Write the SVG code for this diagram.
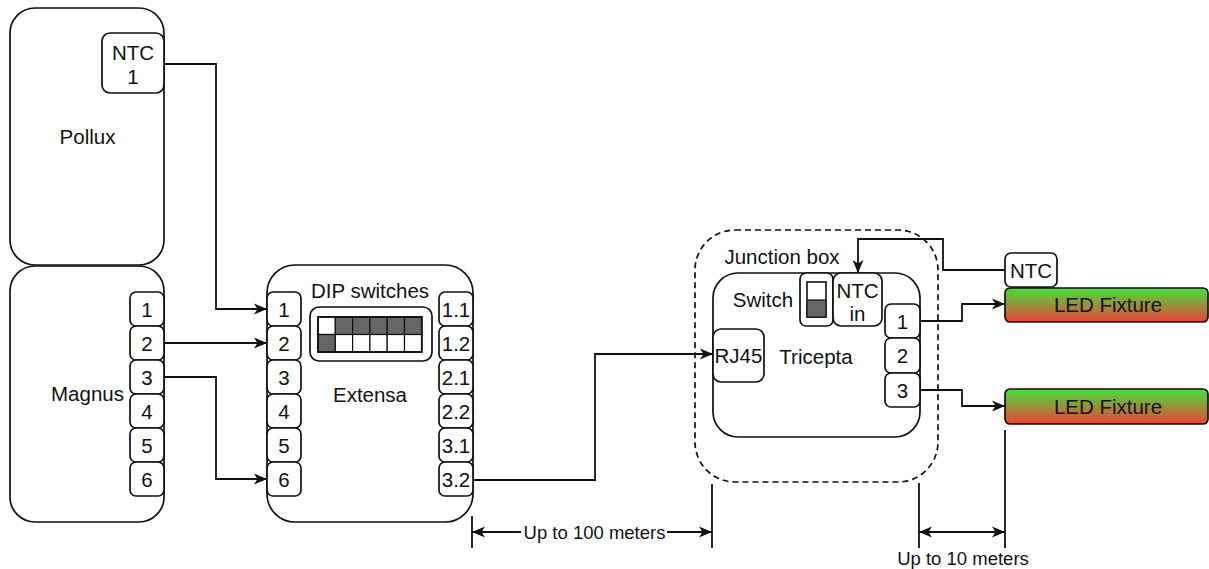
<svg xmlns="http://www.w3.org/2000/svg" width="1209" height="569" viewBox="0 0 1209 569">
<style>
.box{fill:#fff;stroke:#111;stroke-width:1.7}
.dash{fill:none;stroke:#111;stroke-width:1.7;stroke-dasharray:6 4}
.t{font-family:"Liberation Sans",Arial,sans-serif;font-size:20.5px;fill:#111;text-anchor:middle;dominant-baseline:central}
.d{font-family:"Liberation Sans",Arial,sans-serif;font-size:18.5px;fill:#111;text-anchor:middle;dominant-baseline:central}
.w{fill:none;stroke:#111;stroke-width:1.8}
.dark{fill:#666;stroke:#111;stroke-width:1.2}
.lite{fill:#fff;stroke:#111;stroke-width:1.2}
</style>
<defs>
<marker id="arr" viewBox="0 0 14 12" refX="13.5" refY="6" markerWidth="14" markerHeight="12" markerUnits="userSpaceOnUse" orient="auto-start-reverse">
<path d="M0.5,0.5 L13.5,6 L0.5,11.5 L4,6 Z" fill="#111"/>
</marker>
<linearGradient id="led" x1="0" y1="0" x2="0" y2="1">
<stop offset="0" stop-color="#44e03a"/>
<stop offset="1" stop-color="#ec413a"/>
</linearGradient>
</defs>

<g id="pollux">
<rect class="box" x="10" y="8" width="154" height="257" rx="25"/>
<text class="t" x="87.5" y="136">Pollux</text>
</g>
<g id="ntc1">
<rect class="box" x="102" y="33" width="62" height="60" rx="8"/>
<text class="t" x="133" y="52">NTC</text>
<text class="t" x="133" y="76">1</text>
</g>

<g id="magnus">
<rect class="box" x="10" y="266" width="154" height="256" rx="25"/>
<text class="t" x="87.5" y="393">Magnus</text>
<rect class="box" x="130" y="292" width="34" height="34" rx="6"/><text class="t" x="147" y="309">1</text>
<rect class="box" x="130" y="326" width="34" height="34" rx="6"/><text class="t" x="147" y="343">2</text>
<rect class="box" x="130" y="360" width="34" height="34" rx="6"/><text class="t" x="147" y="377">3</text>
<rect class="box" x="130" y="394" width="34" height="34" rx="6"/><text class="t" x="147" y="411">4</text>
<rect class="box" x="130" y="428" width="34" height="34" rx="6"/><text class="t" x="147" y="445">5</text>
<rect class="box" x="130" y="462" width="34" height="34" rx="6"/><text class="t" x="147" y="479">6</text>
</g>

<g id="extensa">
<rect class="box" x="267" y="265" width="206" height="257" rx="28"/>
<text class="t" x="370" y="290">DIP switches</text>
<text class="t" x="370" y="394">Extensa</text>
<rect class="box" x="267" y="292" width="34" height="34" rx="6"/><text class="t" x="284" y="309">1</text>
<rect class="box" x="267" y="326" width="34" height="34" rx="6"/><text class="t" x="284" y="343">2</text>
<rect class="box" x="267" y="360" width="34" height="34" rx="6"/><text class="t" x="284" y="377">3</text>
<rect class="box" x="267" y="394" width="34" height="34" rx="6"/><text class="t" x="284" y="411">4</text>
<rect class="box" x="267" y="428" width="34" height="34" rx="6"/><text class="t" x="284" y="445">5</text>
<rect class="box" x="267" y="462" width="34" height="34" rx="6"/><text class="t" x="284" y="479">6</text>
<rect class="box" x="439" y="292" width="34" height="34" rx="6"/><text class="t" x="456" y="309">1.1</text>
<rect class="box" x="439" y="326" width="34" height="34" rx="6"/><text class="t" x="456" y="343">1.2</text>
<rect class="box" x="439" y="360" width="34" height="34" rx="6"/><text class="t" x="456" y="377">2.1</text>
<rect class="box" x="439" y="394" width="34" height="34" rx="6"/><text class="t" x="456" y="411">2.2</text>
<rect class="box" x="439" y="428" width="34" height="34" rx="6"/><text class="t" x="456" y="445">3.1</text>
<rect class="box" x="439" y="462" width="34" height="34" rx="6"/><text class="t" x="456" y="479">3.2</text>
</g>

<g id="dip">
<rect class="box" x="310" y="307" width="122" height="54" rx="9"/>
<rect class="lite" x="318" y="317" width="17.3" height="17.5"/>
<rect class="dark" x="335.3" y="317" width="17.3" height="17.5"/>
<rect class="dark" x="352.6" y="317" width="17.3" height="17.5"/>
<rect class="dark" x="369.9" y="317" width="17.3" height="17.5"/>
<rect class="dark" x="387.2" y="317" width="17.3" height="17.5"/>
<rect class="dark" x="404.5" y="317" width="17.3" height="17.5"/>
<rect class="dark" x="318" y="334.5" width="17.3" height="17.5"/>
<rect class="lite" x="335.3" y="334.5" width="17.3" height="17.5"/>
<rect class="lite" x="352.6" y="334.5" width="17.3" height="17.5"/>
<rect class="lite" x="369.9" y="334.5" width="17.3" height="17.5"/>
<rect class="lite" x="387.2" y="334.5" width="17.3" height="17.5"/>
<rect class="lite" x="404.5" y="334.5" width="17.3" height="17.5"/>
<rect fill="none" stroke="#111" stroke-width="1.8" x="318" y="317" width="103.8" height="35"/>
</g>

<g id="junction-box">
<rect class="dash" x="695" y="230" width="243" height="252" rx="40"/>
<text class="t" x="782" y="256">Junction box</text>
</g>

<g id="tricepta">
<rect class="box" x="713" y="273" width="207" height="164" rx="25"/>
<text class="t" x="816" y="356">Tricepta</text>
<text class="t" x="763" y="299">Switch</text>
<rect class="box" x="713" y="329" width="51" height="53" rx="8"/>
<text class="t" x="738.5" y="355.5">RJ45</text>
<rect class="box" x="885" y="304" width="35" height="34" rx="6"/><text class="t" x="902.5" y="321">1</text>
<rect class="box" x="885" y="338" width="35" height="35" rx="6"/><text class="t" x="902.5" y="355.5">2</text>
<rect class="box" x="885" y="373" width="35" height="34" rx="6"/><text class="t" x="902.5" y="390">3</text>
</g>

<g id="switch">
<rect class="box" x="800" y="273" width="33" height="53" rx="6"/>
<rect fill="#fff" stroke="#111" stroke-width="1.6" x="807" y="282" width="19" height="35"/>
<rect fill="#666" stroke="#111" stroke-width="1.2" x="807" y="300" width="19" height="17"/>
</g>

<g id="ntc-in">
<rect class="box" x="833" y="273" width="49" height="53" rx="8"/>
<text class="t" x="857.5" y="290">NTC</text>
<text class="t" x="857.5" y="313">in</text>
</g>

<g id="ntc">
<rect class="box" x="1005" y="253" width="52" height="34" rx="6"/>
<text class="t" x="1031" y="270">NTC</text>
</g>

<g id="led1">
<rect fill="url(#led)" stroke="#111" stroke-width="1.7" x="1005" y="288" width="203" height="34" rx="5"/>
<text class="t" x="1108" y="304">LED Fixture</text>
</g>
<g id="led2">
<rect fill="url(#led)" stroke="#111" stroke-width="1.7" x="1005" y="389" width="203" height="35" rx="5"/>
<text class="t" x="1108" y="406">LED Fixture</text>
</g>

<g id="connectors">
<path class="w" d="M164,64 H216 V309 H267" marker-end="url(#arr)"/>
<path class="w" d="M164,343 H267" marker-end="url(#arr)"/>
<path class="w" d="M164,377 H216 V479 H267" marker-end="url(#arr)"/>
<path class="w" d="M473,480 H595 V354 H713" marker-end="url(#arr)"/>
<path class="w" d="M1005,270 H943 V239 H858 V273" marker-end="url(#arr)"/>
<path class="w" d="M920,321 H962 V304 H1005" marker-end="url(#arr)"/>
<path class="w" d="M920,390 H962 V406 H1005" marker-end="url(#arr)"/>
</g>

<g id="dimensions">
<path class="w" d="M472,516 V548"/>
<path class="w" d="M712,484 V548"/>
<path class="w" d="M919,483 V548"/>
<path class="w" d="M1005,430 V548"/>
<path class="w" d="M472,532 H521" marker-start="url(#arr)"/>
<path class="w" d="M667,532 H712" marker-end="url(#arr)"/>
<text class="d" x="594.5" y="532">Up to 100 meters</text>
<path class="w" d="M919,532 H1005" marker-start="url(#arr)" marker-end="url(#arr)"/>
<text class="d" x="963" y="558">Up to 10 meters</text>
</g>
</svg>
